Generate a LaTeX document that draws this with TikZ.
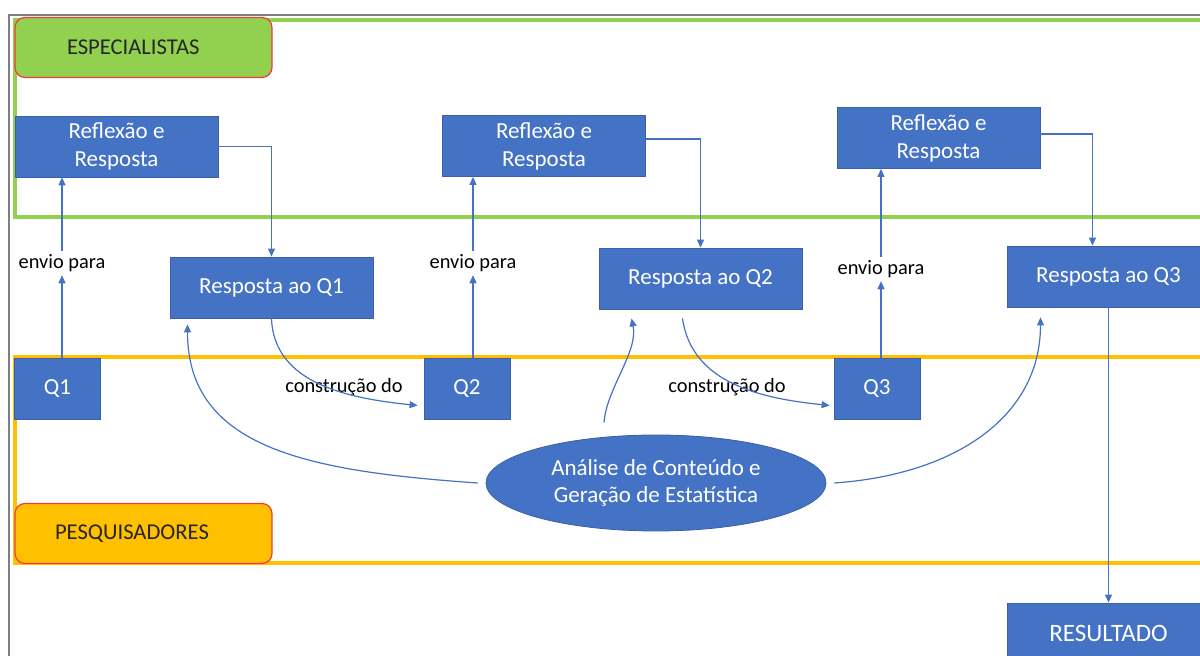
\documentclass[tikz,border=0pt]{standalone}
\usepackage{fontspec}
\setmainfont{Carlito}
\usetikzlibrary{arrows.meta,shapes.geometric}
\definecolor{boxblue}{HTML}{4472C4}
\definecolor{grpgreen}{HTML}{92D050}
\definecolor{grporange}{HTML}{FFC000}
\definecolor{hdrred}{HTML}{F03C3C}
\definecolor{framegray}{HTML}{7F7F7F}
\begin{document}
\begin{tikzpicture}[x=.5pt,y=-.5pt,line width=.6pt,>={Triangle[length=4pt,width=3.5pt]},
  box/.style={draw=boxblue!85!black,line width=.4pt,fill=boxblue,text=white,minimum width=101.5pt,
    minimum height=30.5pt,inner sep=0pt,align=center,font=\fontsize{11.5}{14}\selectfont},
  qbox/.style={box,minimum width=43pt},
  hdr/.style={draw=hdrred,rounded corners=5pt,line width=.6pt,minimum height=30pt,
    align=left,text=black!85,font=\fontsize{11.3}{13}\selectfont},
  lbl/.style={inner sep=1.5pt,font=\fontsize{10.2}{12}\selectfont},
  conn/.style={->,draw=boxblue}]
\useasboundingbox (0,0) rectangle (1200,656);
\clip (0,0) rectangle (1200,656);
% frame and swim lanes
\draw[framegray,line width=1pt] (9,656) -- (9,15) -- (1210,15);
\draw[grpgreen,line width=1.6pt] (15,20) rectangle (1240,217);
\draw[grporange,line width=1.6pt] (15,357) rectangle (1240,563);
\node[hdr,fill=grpgreen,inner xsep=26pt,text width=76.5pt] (spec) at (143.5,47.5) {ESPECIALISTAS};
\node[hdr,fill=grporange,inner xsep=20pt,text width=88.5pt] (pesq) at (143.5,533.5) {PESQUISADORES};
% boxes
\foreach \i/\rx/\ry/\ax/\ay/\qx in {1/116.5/146.5/271.5/287.5/57.5,2/544/146/700.5/278.5/467,3/938.5/138/1108.5/276.5/877}{
  \node[box] (R\i) at (\rx,\ry) {Reflexão e\\Resposta};
  \node[box] (A\i) at (\ax,\ay) {Resposta ao Q\i};
  \node[qbox] (Q\i) at (\qx,388.5) {Q\i};}
\node[box,font=\fontsize{12.5}{15}\selectfont] (res) at (1108.5,633.5) {RESULTADO};
\node[ellipse,fill=boxblue,draw=boxblue!85!black,line width=.4pt,text=white,minimum width=170pt,
  minimum height=48pt,inner sep=0pt,align=center,font=\fontsize{11.5}{13.5}\selectfont]
  (ana) at (656,483) {Análise de Conteúdo e\\Geração de Estatística};
% envio para
\foreach \i/\x/\y in {1/62/263,2/473/263,3/881/269}{
  \node[lbl] (env\i) at (\x,\y) {envio para};
  \draw[conn] (env\i |- Q\i.north) -- (env\i.south);
  \draw[conn] (env\i.north) -- (env\i |- R\i.south);}
\foreach \i/\dx/\dy in {1/0/0,2/0/3.5,3/-8/2}{
  \draw[conn] ([yshift=\dy pt]R\i.east) -| ([xshift=\dx pt]A\i.north);}
\draw[conn] (A3.south) -- (res.north);
% construcao do
\node[lbl] (con1) at (344,387) {construção do};
\node[lbl] (con2) at (727,387) {construção do};
\draw[conn] (A1.south) to[out=-88,in=174] ([xshift=-3pt,yshift=-8.5pt]Q2.west);
\draw[conn] ([xshift=-9pt,yshift=-4.5pt]A2.south) to[out=-82,in=174] ([xshift=-2pt,yshift=-8.5pt]Q3.west);
% analise
\draw[conn] ([xshift=-4pt]ana.west) to[out=176,in=-90,out distance=85pt,in distance=62pt] ([xshift=-42pt,yshift=-3pt]A1.south);
\draw[conn] ([xshift=-26pt,yshift=6pt]ana.north) to[out=86,in=-78,looseness=.8] ([xshift=-34.5pt,yshift=-4.5pt]A2.south);
\draw[conn] ([xshift=4pt]ana.east) to[out=4,in=-90,out distance=60pt,in distance=50pt] ([xshift=-34pt,yshift=-5pt]A3.south);
\end{tikzpicture}
\end{document}
